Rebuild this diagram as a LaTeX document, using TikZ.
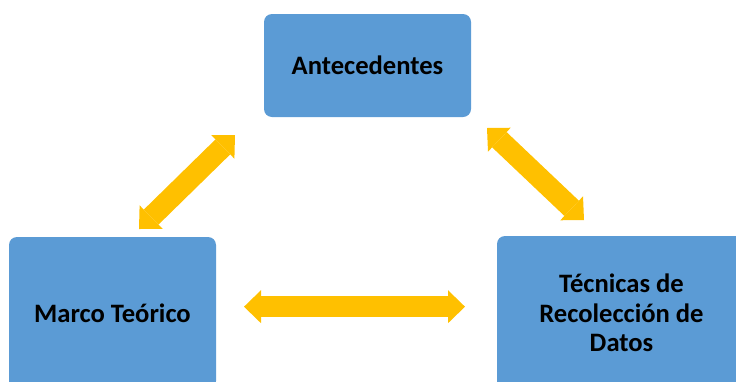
\documentclass[tikz,border=0pt]{standalone}
\usepackage{fontspec}
\setmainfont{Carlito}
\usetikzlibrary{arrows.meta, positioning}

\definecolor{boxblue}{HTML}{5B9BD5}
\definecolor{arrowgold}{HTML}{FFC000}

\tikzset{
  bloque/.style={fill=boxblue, rounded corners=8pt, inner sep=0pt, align=center,
    font=\bfseries\fontsize{26.6}{29.5}\selectfont},
  punta/.tip={Triangle[length=17pt, width=33pt, line width=0pt]},
  flecha/.style={draw=arrowgold, line width=21pt, {punta}-{punta}}
}

\begin{document}
\begin{tikzpicture}[x=1pt, y=-1pt]

  \useasboundingbox (0,0) rectangle (736,381);
  \clip (0,0) rectangle (736,381);

  \node[bloque, minimum width=207pt, minimum height=103pt] (ante) at (367.5,65.5) {Antecedentes};
  \node[bloque, minimum width=207pt, minimum height=152pt] (marco) at (112.5,313) {Marco Teórico};
  \node[bloque, minimum width=249pt, minimum height=154pt] (tecnicas) at (621.5,313) {Técnicas de\\Recolección de\\Datos};

  % ends of the arrows
  \coordinate (marcoA) at (139,229);
  \coordinate (anteM) at (235,135);
  \coordinate (anteT) at (487,128);
  \coordinate (tecnicasA) at (584,220);
  \coordinate (marcoT) at (244,306.7);
  \coordinate (tecnicasM) at (465,306.7);

  \draw[flecha] (marcoA) -- (anteM);
  \draw[flecha] (anteT) -- (tecnicasA);
  \draw[flecha] (marcoT) -- (tecnicasM);

\end{tikzpicture}
\end{document}
